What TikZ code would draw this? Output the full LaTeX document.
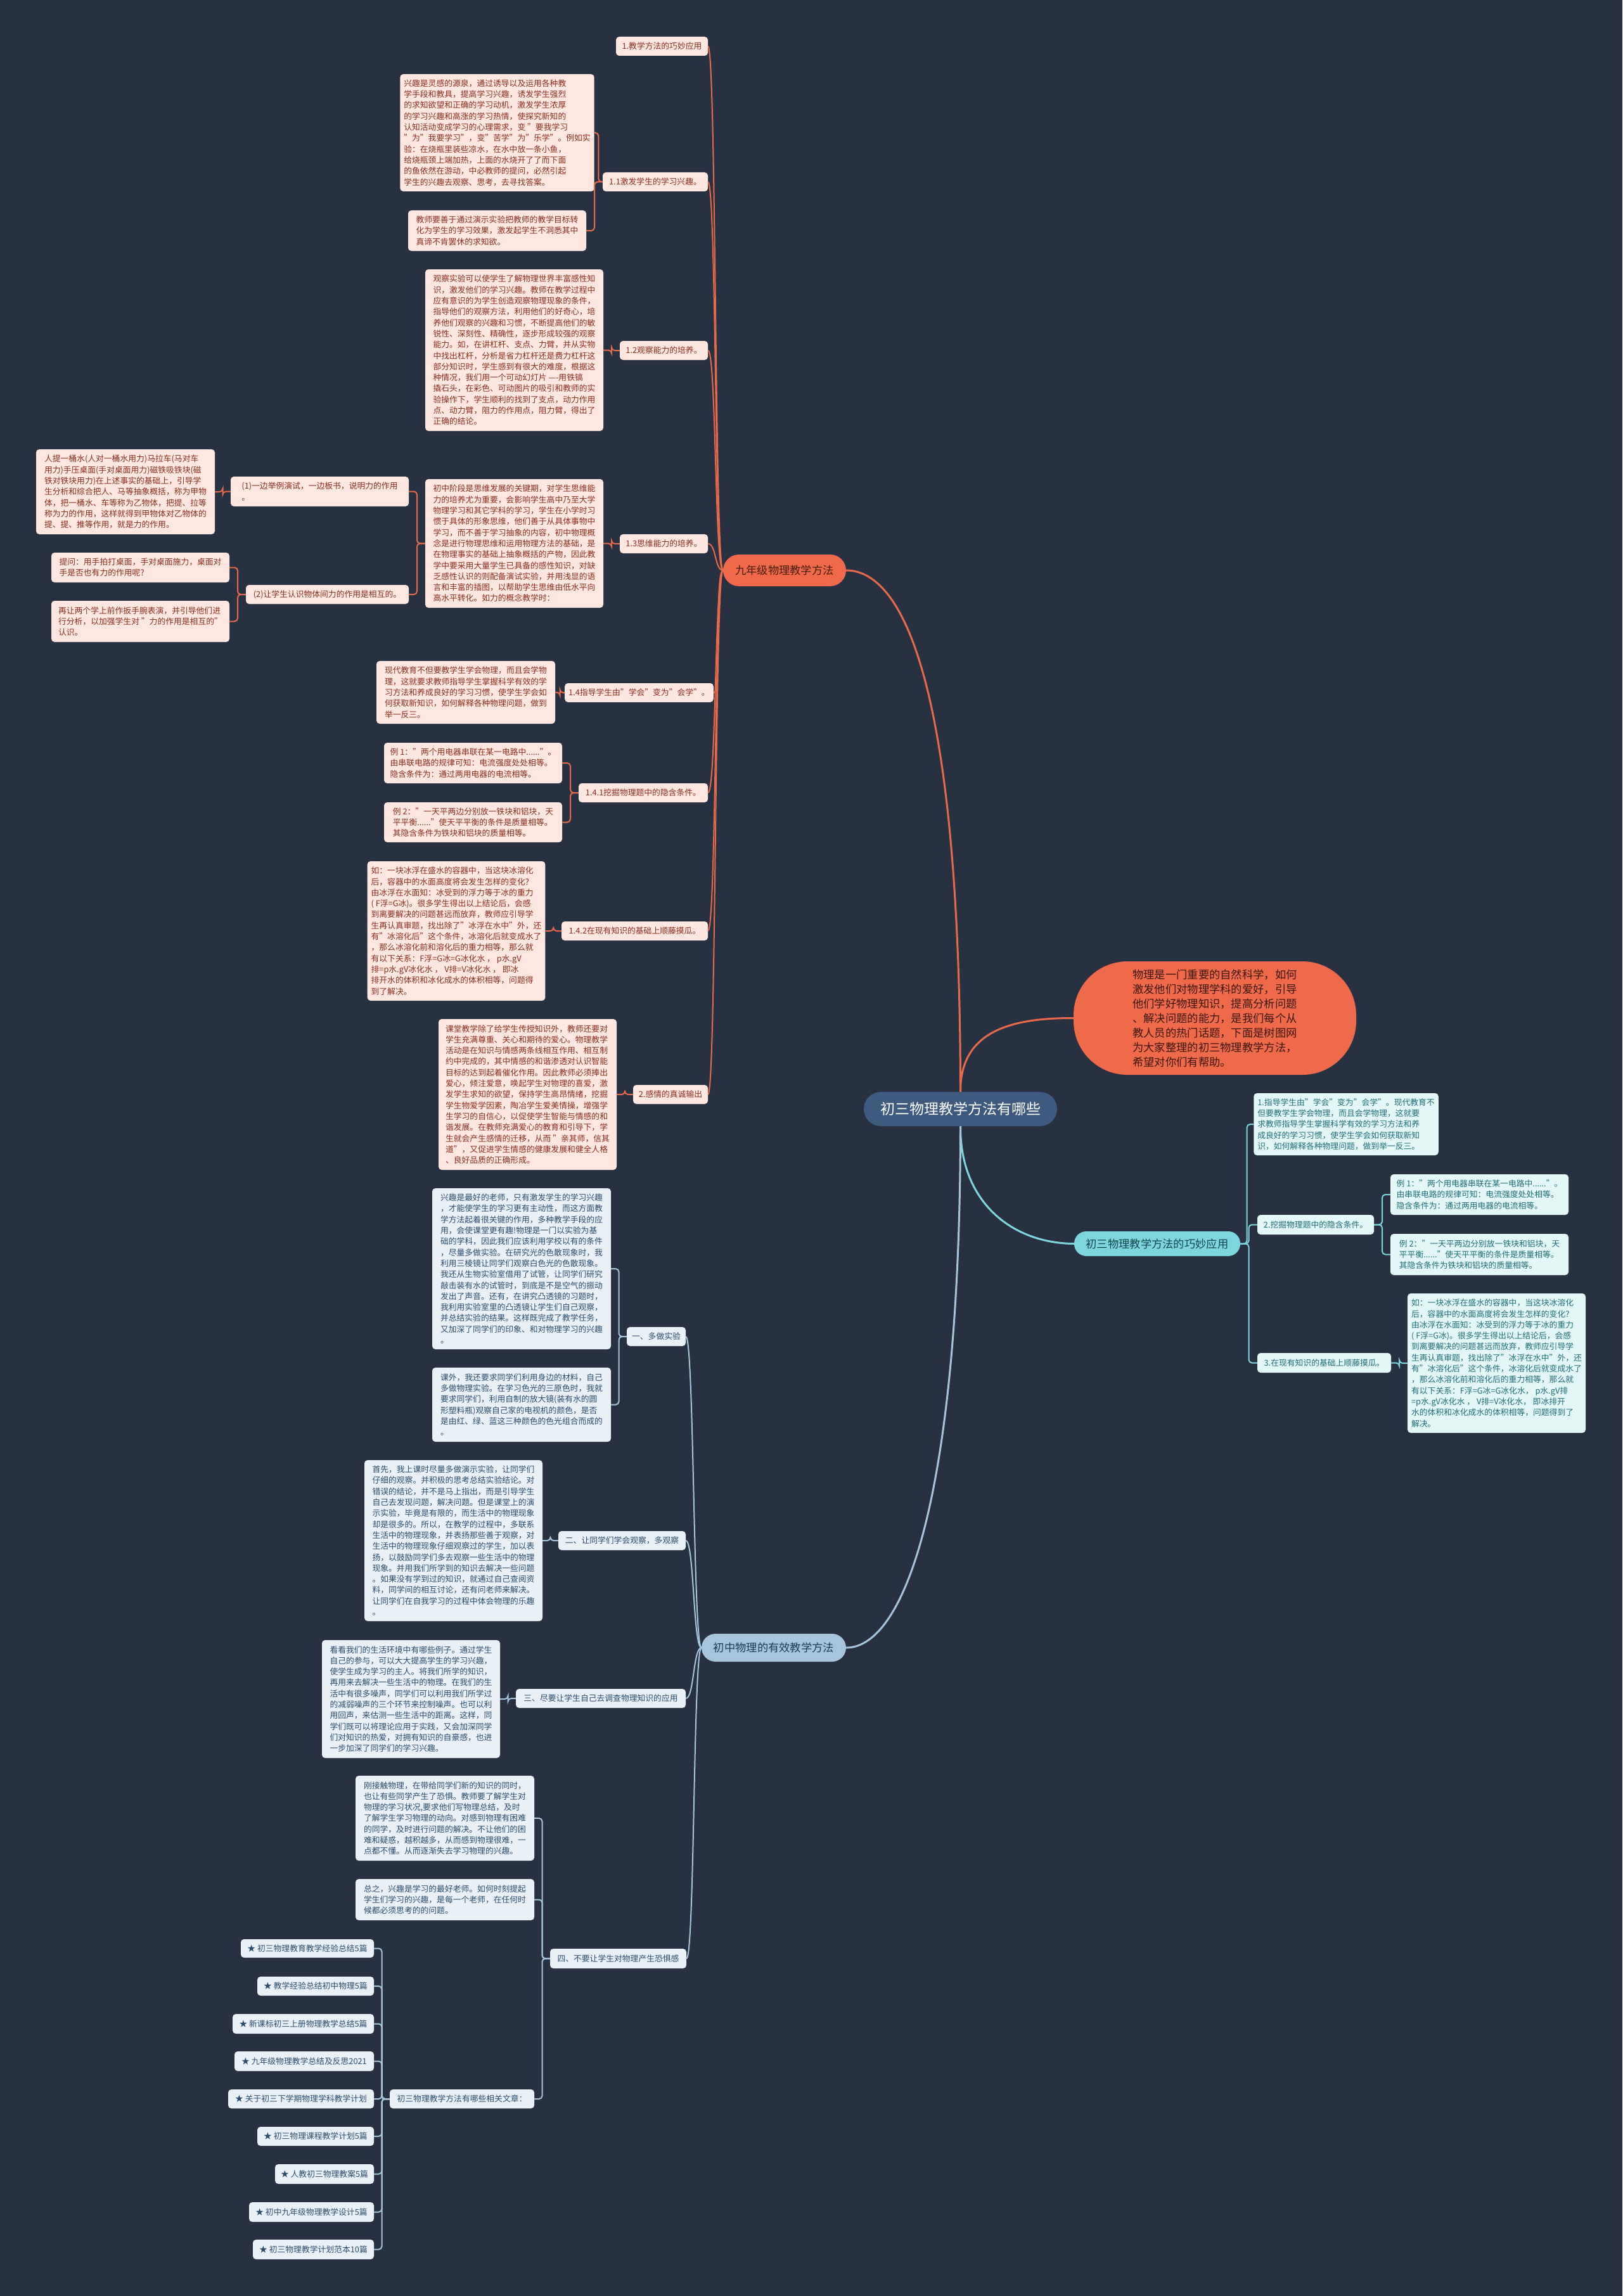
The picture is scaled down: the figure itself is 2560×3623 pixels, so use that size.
\documentclass[tikz,border=0pt]{standalone}
\usepackage{fontspec}
\setmainfont{Noto Sans CJK SC}
\usetikzlibrary{calc}
\definecolor{bg}{HTML}{283142}
\definecolor{olf}{HTML}{FDE7E0}
\definecolor{otx}{HTML}{8B2E1E}
\definecolor{oln}{HTML}{E8694A}
\definecolor{omf}{HTML}{EF6A4B}
\definecolor{omt}{HTML}{4A1C10}
\definecolor{rtf}{HTML}{3E5A7E}
\definecolor{cmf}{HTML}{7DD6DE}
\definecolor{cmt}{HTML}{16434A}
\definecolor{clf}{HTML}{E4F7F7}
\definecolor{ctx}{HTML}{1D6E77}
\definecolor{bmf}{HTML}{A6C5DD}
\definecolor{bmt}{HTML}{1D3957}
\definecolor{blf}{HTML}{E9F1F7}
\definecolor{btx}{HTML}{2B4C6B}
\newcommand\lf{\fontsize{12.8pt}{17.3pt}\selectfont}
\newcommand\mf{\fontsize{17.3pt}{23pt}\selectfont}
\newcommand\rf{\fontsize{23pt}{28pt}\selectfont}
\newcommand\mn[7]{\node[#2, minimum width={(#5)-(#3)}, minimum height={(#6)-(#4)}] (#1) at ({((#3)+(#5))/2},{((#4)+(#6))/2}) {#7};}
\newcommand\trL[3]{\draw[#1] (#2.west) .. controls +(-13,0) and +(13,0) .. (#3.east);}
\newcommand\brL[3]{\draw[#1,rounded corners=5pt] (#2.west) -- ($(#2.west)!.5!(#2.west-|#3.east)$) |- (#3.east);}
\newcommand\brR[3]{\draw[#1,rounded corners=5pt] (#2.east) -- ($(#2.east)!.5!(#2.east-|#3.west)$) |- (#3.west);}
\tikzset{
  base/.style={rounded corners=5pt, inner sep=6pt, align=left, font=\lf},
  ol/.style={base, fill=olf, text=otx},
  cl/.style={base, fill=clf, text=ctx},
  bl/.style={base, fill=blf, text=btx},
  omain/.style={rounded corners=25pt, fill=omf, text=omt, font=\mf, inner sep=4pt},
  cmain/.style={rounded corners=19pt, fill=cmf, text=cmt, font=\mf, inner sep=4pt},
  bmain/.style={rounded corners=22pt, fill=bmf, text=bmt, font=\mf, inner sep=4pt},
  rootn/.style={rounded corners=27pt, fill=rtf, text=white, font=\rf, inner sep=4pt},
  intron/.style={rounded corners=85pt, fill=omf, text=omt!80!black, font=\mf, align=left, inner sep=4pt},
  olink/.style={draw=oln, line width=2pt},
  clink/.style={draw=cmf, line width=2pt},
  blink/.style={draw=bmf, line width=2pt},
}
\begin{document}
\begin{tikzpicture}[x=1pt,y=-1pt]
\fill[bg] (0,0) rectangle (2560,3623);
\useasboundingbox (0,0) rectangle (2560,3623);
% root and intro
\mn{root}{rootn}{1363}{1723}{1668}{1777}{初三物理教学方法有哪些}
\mn{intro}{intron}{1694}{1517}{2140}{1696}{物理是一门重要的自然科学，如何\\激发他们对物理学科的爱好，引导\\他们学好物理知识，提高分析问题\\、解决问题的能力，是我们每个从\\教人员的热门话题，下面是树图网\\为大家整理的初三物理教学方法，\\希望对你们有帮助。}
% orange branch
\mn{om}{omain}{1141}{875}{1335}{925}{九年级物理教学方法}
\mn{n1}{ol}{972}{58}{1117}{88}{1.教学方法的巧妙应用}
\mn{n11}{ol}{951}{272}{1117}{302}{1.1激发学生的学习兴趣。}
\mn{t11a}{ol}{644}{117}{925}{302}{兴趣是灵感的源泉，通过诱导以及运用各种教\\学手段和教具，提高学习兴趣，诱发学生强烈\\的求知欲望和正确的学习动机，激发学生浓厚\\的学习兴趣和高涨的学习热情，使探究新知的\\认知活动变成学习的心理需求，变 "要我学习\\"为"我要学习"，变"苦学"为"乐学"。例如实\\验：在烧瓶里装些凉水，在水中放一条小鱼，\\给烧瓶颈上端加热，上面的水烧开了了而下面\\的鱼依然在游动，中必教师的提问，必然引起\\学生的兴趣去观察、思考，去寻找答案。}
\mn{t11b}{ol}{644}{332}{925}{396}{教师要善于通过演示实验把教师的教学目标转\\化为学生的学习效果，激发起学生不洞悉其中\\真谛不肯罢休的求知欲。}
\mn{n12}{ol}{978}{538}{1117}{568}{1.2观察能力的培养。}
\mn{t12}{ol}{671}{425}{952}{680}{观察实验可以使学生了解物理世界丰富感性知\\识，激发他们的学习兴趣。教师在教学过程中\\应有意识的为学生创造观察物理现象的条件，\\指导他们的观察方法，利用他们的好奇心，培\\养他们观察的兴趣和习惯，不断提高他们的敏\\锐性、深刻性、精确性，逐步形成较强的观察\\能力。如，在讲杠杆、支点、力臂，并从实物\\中找出杠杆，分析是省力杠杆还是费力杠杆这\\部分知识时，学生感到有很大的难度，根据这\\种情况，我们用一个可动幻灯片 ----用铁镐\\撬石头，在彩色、可动图片的吸引和教师的实\\验操作下，学生顺利的找到了支点，动力作用\\点、动力臂，阻力的作用点，阻力臂，得出了\\正确的结论。}
\mn{n13}{ol}{978}{843}{1117}{873}{1.3思维能力的培养。}
\mn{t13}{ol}{671}{756}{952}{959}{初中阶段是思维发展的关键期，对学生思维能\\力的培养尤为重要，会影响学生高中乃至大学\\物理学习和其它学科的学习，学生在小学时习\\惯于具体的形象思维，他们善于从具体事物中\\学习，而不善于学习抽象的内容，初中物理概\\念是进行物理思维和运用物理方法的基础，是\\在物理事实的基础上抽象概括的产物，因此教\\学中要采用大量学生已具备的感性知识，对缺\\乏感性认识的则配备演试实验，并用浅显的语\\言和丰富的插图，以帮助学生思维由低水平向\\高水平转化。如力的概念教学时：}
\mn{n131}{ol}{364}{752}{645}{799}{(1)一边举例演试，一边板书，说明力的作用\\。}
\mn{t131}{ol}{57}{709}{339}{843}{人提一桶水(人对一桶水用力)马拉车(马对车\\用力)手压桌面(手对桌面用力)磁铁吸铁块(磁\\铁对铁块用力)在上述事实的基础上，引导学\\生分析和综合把人、马等抽象概括，称为甲物\\体，把一桶水、车等称为乙物体，把提、拉等\\称为力的作用，这样就得到甲物体对乙物体的\\提、提、推等作用，就是力的作用。}
\mn{n132}{ol}{388}{923}{645}{953}{(2)让学生认识物体间力的作用是相互的。}
\mn{t132a}{ol}{81}{872}{362}{919}{提问：用手拍打桌面，手对桌面施力，桌面对\\手是否也有力的作用呢?}
\mn{t132b}{ol}{81}{948}{362}{1013}{再让两个学上前作扳手腕表演，并引导他们进\\行分析，以加强学生对 "力的作用是相互的"\\认识。}
\mn{n14}{ol}{900}{1078}{1117}{1108}{1.4指导学生由"学会"变为"会学"。}
\mn{t14}{ol}{594}{1043}{876}{1142}{现代教育不但要教学生学会物理，而且会学物\\理，这就要求教师指导学生掌握科学有效的学\\习方法和养成良好的学习习惯，使学生学会如\\何获取新知识，如何解释各种物理问题，做到\\举一反三。}
\mn{n141}{ol}{913}{1236}{1117}{1266}{1.4.1挖掘物理题中的隐含条件。}
\mn{t141a}{ol}{606}{1172}{887}{1236}{例 1："两个用电器串联在某一电路中......"。\\由串联电路的规律可知：电流强度处处相等。\\隐含条件为：通过两用电器的电流相等。}
\mn{t141b}{ol}{606}{1266}{887}{1329}{例 2："一天平两边分别放一铁块和铝块，天\\平平衡......"使天平平衡的条件是质量相等。\\其隐含条件为铁块和铝块的质量相等。}
\mn{n142}{ol}{886}{1454}{1117}{1484}{1.4.2在现有知识的基础上顺藤摸瓜。}
\mn{t142}{ol}{580}{1359}{860}{1579}{如：一块冰浮在盛水的容器中，当这块冰溶化\\后，容器中的水面高度将会发生怎样的变化?\\由冰浮在水面知：冰受到的浮力等于冰的重力\\( F浮=G冰)。很多学生得出以上结论后，会感\\到离要解决的问题甚远而放弃，教师应引导学\\生再认真审题，找出除了"冰浮在水中"外，还\\有"冰溶化后"这个条件，冰溶化后就变成水了\\，那么冰溶化前和溶化后的重力相等，那么就\\有以下关系：F浮=G冰=G冰化水 ， p水.gV\\排=p水.gV冰化水 ， V排=V冰化水 ， 即冰\\排开水的体积和冰化成水的体积相等，问题得\\到了解决。}
\mn{n2}{ol}{999}{1712}{1117}{1742}{2.感情的真诚输出}
\mn{t2}{ol}{692}{1608}{973}{1846}{课堂教学除了给学生传授知识外，教师还要对\\学生充满尊重、关心和期待的爱心。物理教学\\活动是在知识与情感两条线相互作用、相互制\\约中完成的，其中情感的和谐渗透对认识智能\\目标的达到起着催化作用。因此教师必须捧出\\爱心，倾注爱意，唤起学生对物理的喜爱，激\\发学生求知的欲望，保持学生高昂情绪，挖掘\\学生物爱学因素，陶冶学生爱美情操，增强学\\生学习的自信心，以促使学生智能与情感的和\\谐发展。在教师充满爱心的教育和引导下，学\\生就会产生感情的迁移，从而 "亲其师，信其\\道"，又促进学生情感的健康发展和健全人格\\、良好品质的正确形成。}
% cyan branch
\mn{nc}{cmain}{1695}{1943}{1957}{1982}{初三物理教学方法的巧妙应用}
\mn{c1}{cl}{1984}{1725}{2264}{1823}{1.指导学生由"学会"变为"会学"。现代教育不\\但要教学生学会物理，而且会学物理，这就要\\求教师指导学生掌握科学有效的学习方法和养\\成良好的学习习惯，使学生学会如何获取新知\\识，如何解释各种物理问题，做到举一反三。}
\mn{c2}{cl}{1984}{1917}{2168}{1948}{2.挖掘物理题中的隐含条件。}
\mn{c21}{cl}{2194}{1853}{2475}{1917}{例 1："两个用电器串联在某一电路中......"。\\由串联电路的规律可知：电流强度处处相等。\\隐含条件为：通过两用电器的电流相等。}
\mn{c22}{cl}{2194}{1947}{2475}{2012}{例 2："一天平两边分别放一铁块和铝块，天\\平平衡......"使天平平衡的条件是质量相等。\\其隐含条件为铁块和铝块的质量相等。}
\mn{c3}{cl}{1984}{2135}{2195}{2166}{3.在现有知识的基础上顺藤摸瓜。}
\mn{c31}{cl}{2221}{2041}{2502}{2261}{如：一块冰浮在盛水的容器中，当这块冰溶化\\后，容器中的水面高度将会发生怎样的变化?\\由冰浮在水面知：冰受到的浮力等于冰的重力\\( F浮=G冰)。很多学生得出以上结论后，会感\\到离要解决的问题甚远而放弃，教师应引导学\\生再认真审题，找出除了"冰浮在水中"外，还\\有"冰溶化后"这个条件，冰溶化后就变成水了\\，那么冰溶化前和溶化后的重力相等，那么就\\有以下关系：F浮=G冰=G冰化水， p水.gV排\\=p水.gV冰化水 ， V排=V冰化水， 即冰排开\\水的体积和冰化成水的体积相等，问题得到了\\解决。}
% blue branch
\mn{bm}{bmain}{1107}{2578}{1335}{2622}{初中物理的有效教学方法}
\mn{b1}{bl}{989}{2094}{1082}{2124}{一、多做实验}
\mn{b1a}{bl}{682}{1875}{964}{2129}{兴趣是最好的老师，只有激发学生的学习兴趣\\，才能使学生的学习更有主动性，而这方面教\\学方法起着很关键的作用，多种教学手段的应\\用，会使课堂更有趣!物理是一门以实验为基\\础的学科，因此我们应该利用学校以有的条件\\，尽量多做实验。在研究光的色散现象时，我\\利用三棱镜让同学们观察白色光的色散现象。\\我还从生物实验室借用了试管，让同学们研究\\敲击装有水的试管时，到底是不是空气的振动\\发出了声音。还有，在讲究凸透镜的习题时，\\我利用实验室里的凸透镜让学生们自己观察，\\并总结实验的结果。这样既完成了教学任务，\\又加深了同学们的印象、和对物理学习的兴趣\\。}
\mn{b1b}{bl}{682}{2158}{964}{2275}{课外，我还要求同学们利用身边的材料，自己\\多做物理实验。在学习色光的三原色时，我就\\要求同学们，利用自制的放大镜(装有水的圆\\形塑料瓶)观察自己家的电视机的颜色，是否\\是由红、绿、蓝这三种颜色的色光组合而成的\\。}
\mn{b2}{bl}{881}{2416}{1082}{2446}{二、让同学们学会观察，多观察}
\mn{b2a}{bl}{575}{2304}{856}{2558}{首先，我上课时尽量多做演示实验，让同学们\\仔细的观察。并积极的思考总结实验结论。对\\错误的结论，并不是马上指出，而是引导学生\\自己去发现问题，解决问题。但是课堂上的演\\示实验，毕竟是有限的，而生活中的物理现象\\却是很多的。所以，在教学的过程中，多联系\\生活中的物理现象，并表扬那些善于观察，对\\生活中的物理现象仔细观察过的学生，加以表\\扬，以鼓励同学们多去观察一些生活中的物理\\现象。并用我们所学到的知识去解决一些问题\\。如果没有学到过的知识，就通过自己查阅资\\料，同学间的相互讨论，还有问老师来解决。\\让同学们在自我学习的过程中体会物理的乐趣\\。}
\mn{b3}{bl}{814}{2665}{1082}{2695}{三、尽要让学生自己去调查物理知识的应用}
\mn{b3a}{bl}{508}{2588}{789}{2774}{看看我们的生活环境中有哪些例子。通过学生\\自己的参与，可以大大提高学生的学习兴趣，\\使学生成为学习的主人。将我们所学的知识，\\再用来去解决一些生活中的物理。在我们的生\\活中有很多噪声，同学们可以利用我们所学过\\的减弱噪声的三个环节来控制噪声。也可以利\\用回声，来估测一些生活中的距离。这样，同\\学们既可以将理论应用于实践，又会加深同学\\们对知识的热爱，对拥有知识的自豪感，也进\\一步加深了同学们的学习兴趣。}
\mn{b4}{bl}{868}{3075}{1083}{3106}{四、不要让学生对物理产生恐惧感}
\mn{b4a}{bl}{561}{2802}{843}{2936}{刚接触物理，在带给同学们新的知识的同时，\\也让有些同学产生了恐惧。教师要了解学生对\\物理的学习状况,要求他们写物理总结，及时\\了解学生学习物理的动向。对感到物理有困难\\的同学，及时进行问题的解决。不让他们的困\\难和疑惑，越积越多，从而感到物理很难，一\\点都不懂。从而逐渐失去学习物理的兴趣。}
\mn{b4b}{bl}{561}{2965}{843}{3030}{总之，兴趣是学习的最好老师。如何时刻提起\\学生们学习的兴趣，是每一个老师，在任何时\\候都必须思考的的问题。}
\mn{b5}{bl}{615}{3297}{843}{3327}{初三物理教学方法有哪些相关文章：}
\mn{s1}{bl}{380}{3060}{590}{3089}{★ 初三物理教育教学经验总结5篇}
\mn{s2}{bl}{406}{3119}{590}{3149}{★ 教学经验总结初中物理5篇}
\mn{s3}{bl}{367}{3178}{590}{3209}{★ 新课标初三上册物理教学总结5篇}
\mn{s4}{bl}{370}{3237}{590}{3268}{★ 九年级物理教学总结及反思2021}
\mn{s5}{bl}{360}{3297}{590}{3327}{★ 关于初三下学期物理学科教学计划}
\mn{s6}{bl}{406}{3356}{590}{3386}{★ 初三物理课程教学计划5篇}
\mn{s7}{bl}{434}{3415}{590}{3446}{★ 人教初三物理教案5篇}
\mn{s8}{bl}{393}{3475}{590}{3506}{★ 初中九年级物理教学设计5篇}
\mn{s9}{bl}{399}{3534}{590}{3565}{★ 初三物理教学计划范本10篇}
% root connectors
\draw[draw=oln, line width=3pt] (root.north) .. controls (1515,1100) and (1430,900) .. (om.east);
\draw[draw=oln, line width=3pt] (root.north) .. controls (1515,1630) and (1590,1606) .. (intro.west);
\draw[draw=cmf, line width=3pt] (root.south) .. controls (1515,1900) and (1600,1962) .. (nc.west);
\draw[draw=bmf, line width=3pt] (root.south) .. controls (1515,2350) and (1430,2600) .. (bm.east);
% orange links
\foreach \c in {n1,n11,n12,n13,n14,n141,n142,n2} {\trL{olink}{om}{\c}}
\brL{olink}{n11}{t11a}
\brL{olink}{n11}{t11b}
\brL{olink}{n12}{t12}
\brL{olink}{n13}{t13}
\brL{olink}{t13}{n131}
\brL{olink}{t13}{n132}
\brL{olink}{n131}{t131}
\brL{olink}{n132}{t132a}
\brL{olink}{n132}{t132b}
\brL{olink}{n14}{t14}
\brL{olink}{n141}{t141a}
\brL{olink}{n141}{t141b}
\brL{olink}{n142}{t142}
\brL{olink}{n2}{t2}
% cyan links
\brR{clink}{nc}{c1}
\brR{clink}{nc}{c2}
\brR{clink}{nc}{c3}
\brR{clink}{c2}{c21}
\brR{clink}{c2}{c22}
\brR{clink}{c3}{c31}
% blue links
\foreach \c in {b1,b2,b3,b4} {\trL{blink}{bm}{\c}}
\brL{blink}{b1}{b1a}
\brL{blink}{b1}{b1b}
\brL{blink}{b2}{b2a}
\brL{blink}{b3}{b3a}
\brL{blink}{b4}{b4a}
\brL{blink}{b4}{b4b}
\brL{blink}{b4}{b5}
\foreach \c in {s1,s2,s3,s4,s5,s6,s7,s8,s9} {\brL{blink}{b5}{\c}}
\end{tikzpicture}
\end{document}
